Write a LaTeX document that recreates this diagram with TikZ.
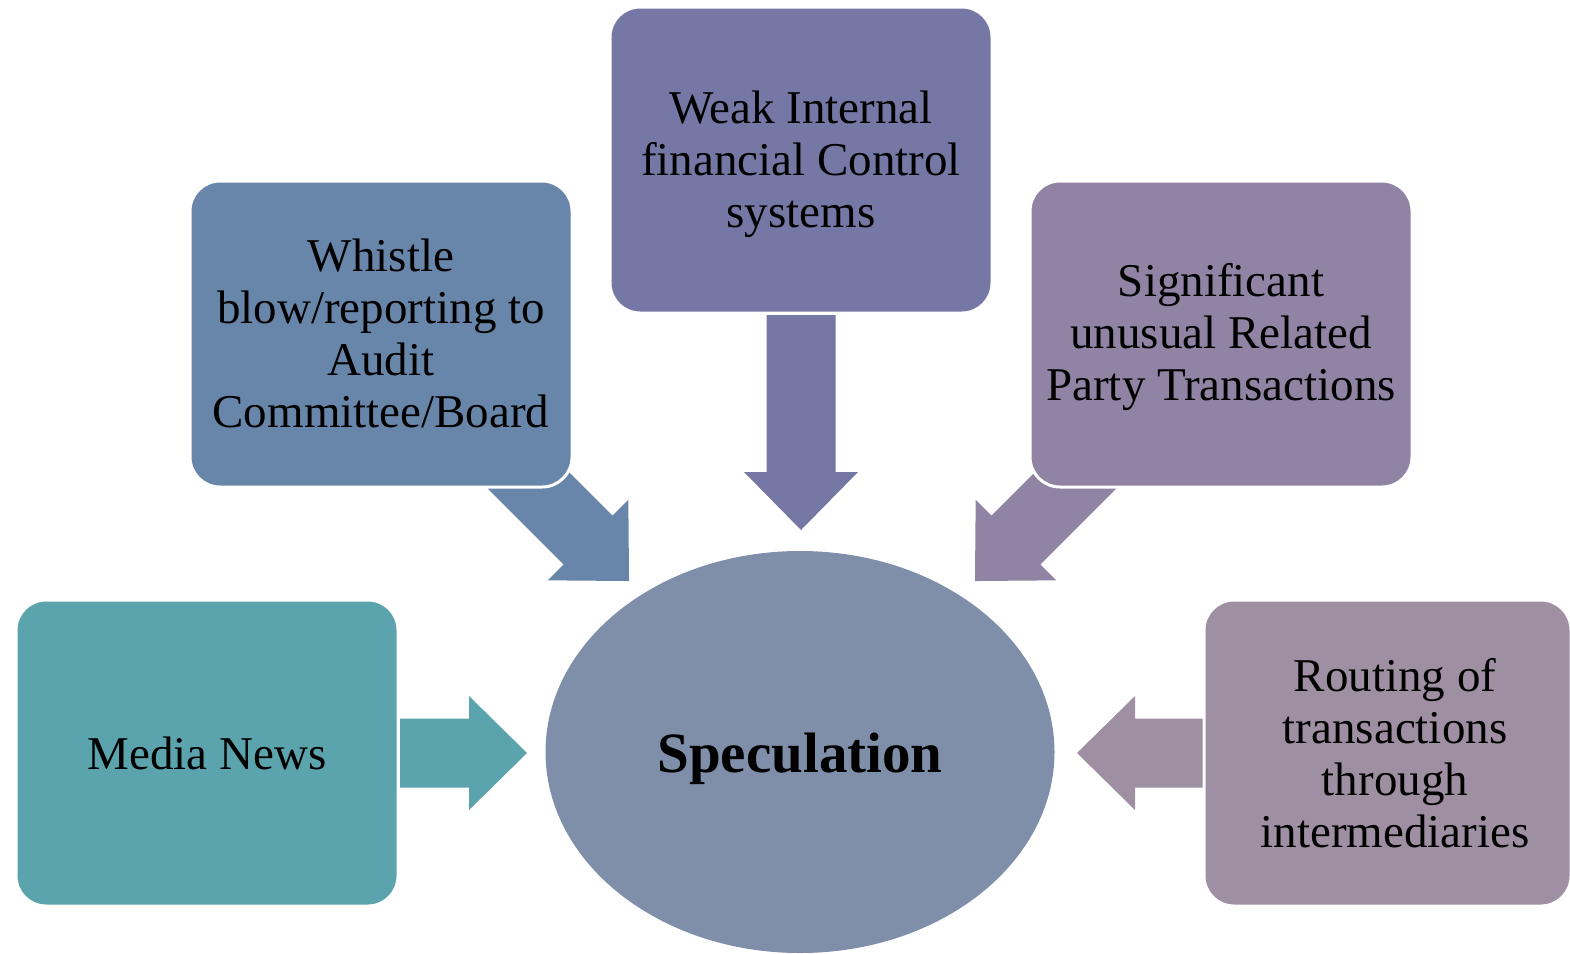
\documentclass[tikz,border=0pt]{standalone}
\usepackage{fontspec}
\setmainfont{Liberation Serif}
\usetikzlibrary{shapes.geometric,calc}
\pgfdeclarelayer{background}
\pgfsetlayers{background,main}

\definecolor{cWhistle}{RGB}{104,134,170}
\definecolor{cWeak}{RGB}{117,119,165}
\definecolor{cSig}{RGB}{144,131,163}
\definecolor{cMedia}{RGB}{91,163,173}
\definecolor{cRouting}{RGB}{158,143,163}
\definecolor{cSpec}{RGB}{127,143,170}

% block arrow: shaft 69 wide, head 114 wide and 58 long, drawn along +x from the tail
\newcommand\blockarrow[4]{% tail coordinate, angle, length, colour
  \begin{scope}[shift={(#1)}, rotate=#2]
    \fill[#4] (0,-34.5) -- (#3-58,-34.5) -- (#3-58,-57) -- (#3,0)
      -- (#3-58,57) -- (#3-58,34.5) -- (0,34.5) -- cycle;
  \end{scope}}

\begin{document}
\begin{tikzpicture}[x=1pt,y=-1pt,
  box/.style={rounded corners=30pt, draw=white, line width=3pt,
    minimum width=382pt, minimum height=306pt, inner sep=0pt},
  txt/.style={align=center, inner sep=0pt, font=\fontsize{47}{52}\selectfont}]
\useasboundingbox (0,0) rectangle (1570,953);

% boxes
\node[box, fill=cWhistle] (whistle) at (381,334) {};
\node[box, fill=cWeak] (weak) at (801,160) {};
\node[box, fill=cSig] (sig) at (1221,334) {};
\node[box, fill=cMedia] (media) at (207,753) {};
\node[box, fill=cRouting, minimum width=367pt] (routing) at (1387.5,753) {};

% box texts
\node[txt] (whistletext) at ($(whistle.center)+(0,-1)$)
  {Whistle\\blow/reporting to\\Audit\\Committee/Board};
\node[txt] (weaktext) at ($(weak.center)+(0,4)$)
  {Weak Internal\\financial Control\\systems};
\node[txt] (sigtext) at ($(sig.center)+(0,3)$)
  {Significant\\unusual Related\\Party Transactions};
\node[txt] (mediatext) at (media.center) {Media News};
\node[txt] (routingtext) at ($(routing.center)+(7.5,0)$)
  {Routing of\\transactions\\through\\intermediaries};

% centre
\node[ellipse, fill=cSpec, minimum width=509pt, minimum height=402pt, inner sep=0pt]
  (spec) at (800,752) {};
\node[inner sep=0pt, font=\bfseries\fontsize{57}{62}\selectfont] (spectext)
  at ($(spec.center)+(0,7)$) {Speculation};

% arrow tails
\coordinate (tWeak) at (801,315);
\coordinate (tWhistle) at (512,464);
\coordinate (tSig) at (1092,464);
\coordinate (tMedia) at (400,753);
\coordinate (tRouting) at (1203,753);

\begin{pgfonlayer}{background}
  \blockarrow{tWeak}{-90}{215}{cWeak}
  \blockarrow{tWhistle}{-45}{165.5}{cWhistle}
  \blockarrow{tSig}{-135}{165.5}{cSig}
  \blockarrow{tMedia}{0}{127}{cMedia}
  \blockarrow{tRouting}{180}{126}{cRouting}
\end{pgfonlayer}
\end{tikzpicture}
\end{document}
